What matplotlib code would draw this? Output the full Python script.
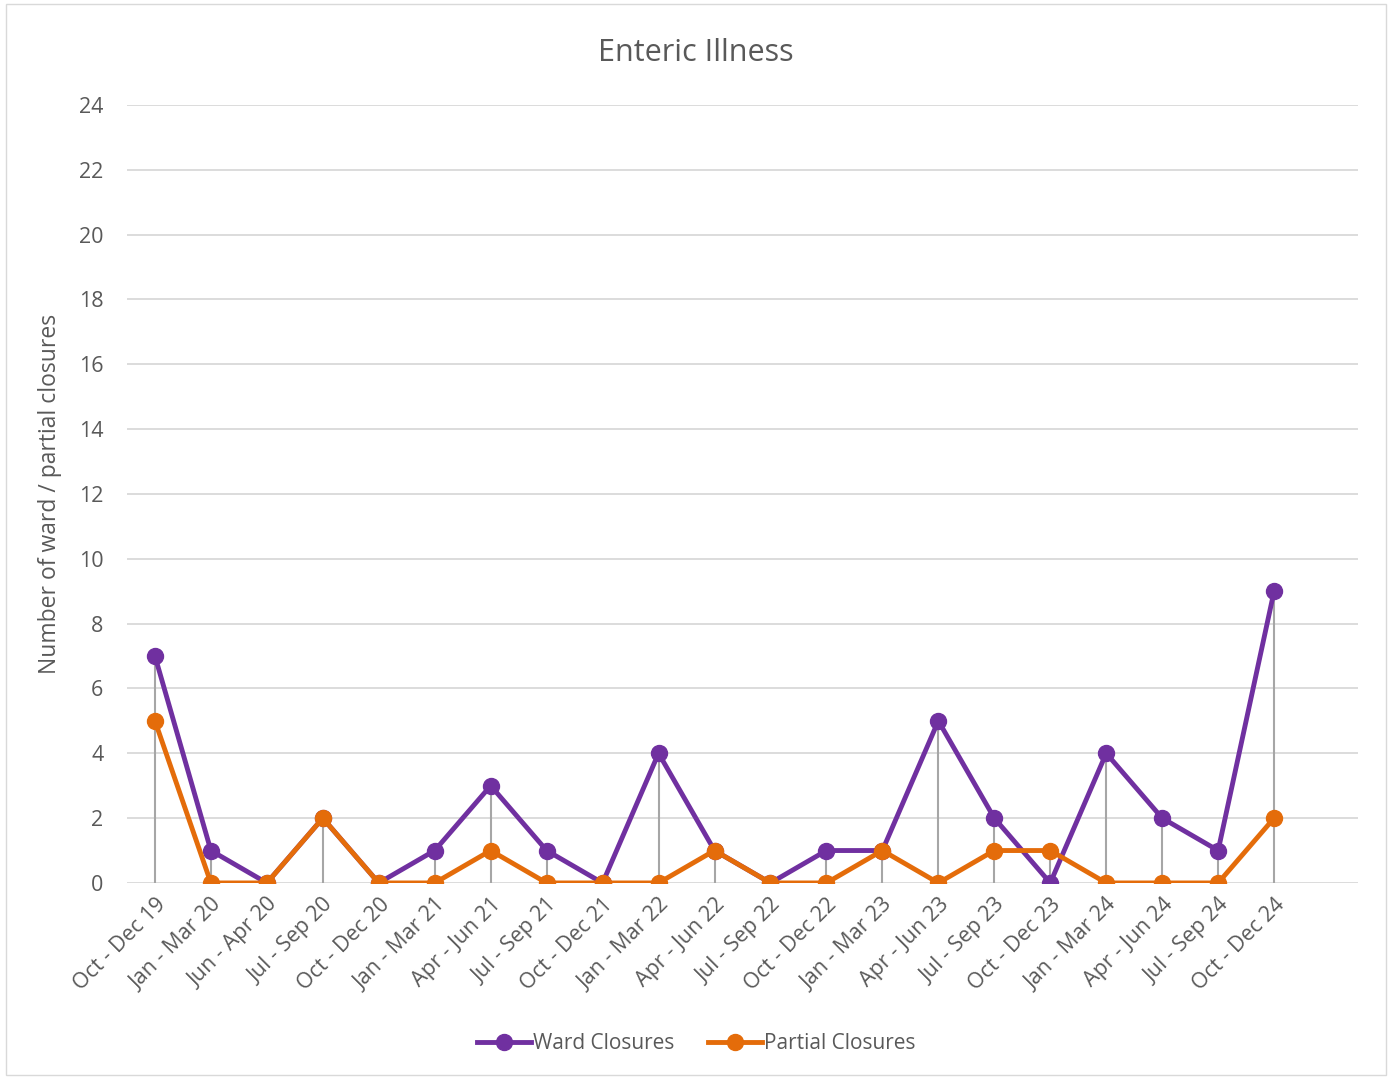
import matplotlib
matplotlib.use('Agg')
import matplotlib.pyplot as plt
from matplotlib.patches import Rectangle

plt.rcParams['font.family'] = ['Open Sans', 'DejaVu Sans']

# Data
quarters = ["Oct - Dec 19", "Jan - Mar 20", "Jun - Apr 20", "Jul - Sep 20", "Oct - Dec 20",
            "Jan - Mar 21", "Apr - Jun 21", "Jul - Sep 21", "Oct - Dec 21", "Jan - Mar 22",
            "Apr - Jun 22", "Jul - Sep 22", "Oct - Dec 22", "Jan - Mar 23", "Apr - Jun 23",
            "Jul - Sep 23", "Oct - Dec 23", "Jan - Mar 24", "Apr - Jun 24", "Jul - Sep 24",
            "Oct - Dec 24"]
ward = [7, 1, 0, 2, 0, 1, 3, 1, 0, 4, 1, 0, 1, 1, 5, 2, 0, 4, 2, 1, 9]
partial = [5, 0, 0, 2, 0, 0, 1, 0, 0, 0, 1, 0, 0, 1, 0, 1, 1, 0, 0, 0, 2]

purple = "#7030A0"
orange = "#E46C0A"
txt = "#595959"

fig = plt.figure(figsize=(13.92, 10.79), dpi=100)
ax = fig.add_axes([0.0912, 0.1817, 0.8844, 0.721])

x = list(range(len(quarters)))

# drop lines
tops = [max(a, b) for a, b in zip(ward, partial)]
ax.vlines(x, 0, tops, color="#A6A6A6", lw=1.5, zorder=1)

ax.plot(x, ward, color=purple, lw=3.5, marker='o', ms=11.5, label="Ward Closures", zorder=3)
ax.plot(x, partial, color=orange, lw=3.5, marker='o', ms=11.5, label="Partial Closures", zorder=4)

ax.set_ylim(0, 24)
ax.set_yticks(range(0, 25, 2))
ax.set_xlim(-0.5, 21.5)
ax.set_xticks(x)
ax.set_xticklabels(quarters, rotation=45, ha='right', rotation_mode='anchor')
ax.tick_params(axis='both', length=0, labelsize=15.5, labelcolor=txt)
ax.tick_params(axis='x', pad=8)
ax.tick_params(axis='y', pad=17)
ax.grid(axis='y', color="#D9D9D9", lw=1.3)
ax.set_axisbelow(True)
for s in ax.spines.values():
    s.set_visible(False)

ax.set_ylabel("Number of ward / partial closures", fontsize=16.5, color=txt, labelpad=12)
fig.text(0.5, 0.951, "Enteric Illness", ha='center', va='center', fontsize=22, color=txt)

fig.legend(loc='center', bbox_to_anchor=(0.5, 0.033), ncol=2, frameon=False,
           fontsize=15, labelcolor=txt, handlelength=2.6, handletextpad=0.1, columnspacing=1.6)

fig.patches.append(Rectangle((0.004, 0.004), 0.992, 0.992, transform=fig.transFigure,
                             fill=False, edgecolor="#D9D9D9", lw=1))

fig.savefig("out.png", dpi=100)
